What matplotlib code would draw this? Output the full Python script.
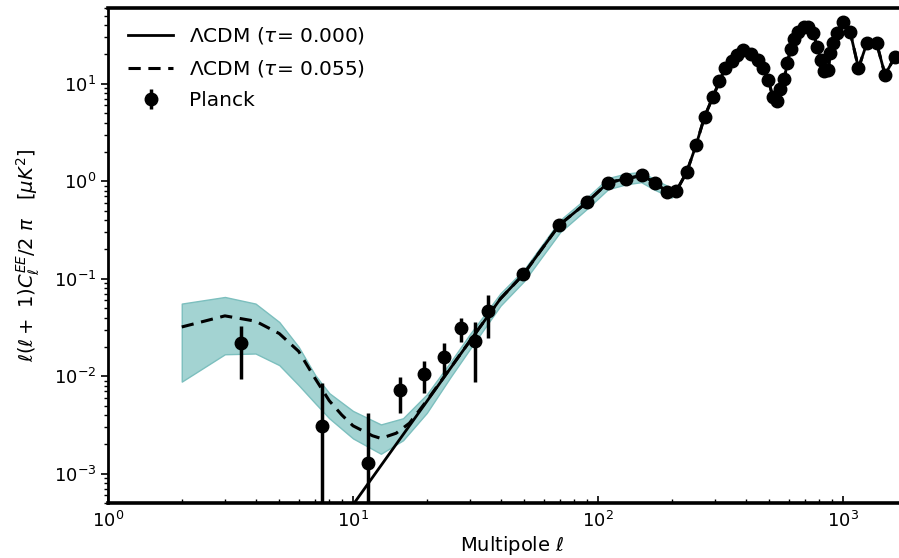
import numpy as np
import matplotlib as mpl
from matplotlib import pyplot as plt

mpl.rcParams.update({'font.family': 'DejaVu Sans'})

# Planck EE band powers
planck_ell = [3.5, 7.5, 11.5, 15.5, 19.5, 23.5, 27.6, 31.5, 35.7,
              49.6, 69.5, 89.9, 110, 130, 151, 171, 190.6, 209,
              230, 251, 272, 294, 313, 330, 351, 368, 392, 423, 451, 473, 496,
              516, 536, 553, 576, 592, 612, 631, 657, 690, 722, 756, 785, 810,
              836, 871, 885, 913, 942, 996, 1069, 1156, 1250, 1372, 1484, 1630]
planck_cl = [0.0217, 0.0031, 0.00129, 0.00714, 0.0105, 0.0159, 0.0314, 0.0229, 0.0464,
             0.111, 0.356, 0.606, 0.97, 1.06, 1.15, 0.97, 0.78, 0.80,
             1.24, 2.33, 4.58, 7.3, 10.6, 14.5, 17.2, 19.8, 22.2, 20.2, 17.6, 14.5, 11.0,
             7.4, 6.6, 8.8, 11.2, 16.5, 22.6, 28.6, 34.2, 38.4, 38.4, 32.9, 24.0, 17.6,
             13.4, 13.9, 20.6, 26.0, 32.9, 43.3, 34.2, 14.5, 26.0, 26.0, 12.4, 19.0]
planck_hi = [0.033, 0.0085, 0.0042, 0.0099, 0.0143, 0.0217, 0.0397, 0.036, 0.0676]
planck_lo = [0.0093, 1e-6, 1e-6, 0.0042, 0.0067, 0.0103, 0.0225, 0.0088, 0.0249]

# LCDM tau = 0.000
lcdm0_ell_low = [10.0, 15.0, 20.0, 30.0, 40.0]
lcdm0_cl_low = [0.00048, 0.0020, 0.0055, 0.023, 0.0625]

# LCDM tau = 0.055
lcdm055_ell_low = [2, 3, 4, 5, 6, 7, 8, 9, 10, 12, 13, 15, 17, 20, 30, 40]
lcdm055_cl_low = [0.032, 0.0416, 0.0367, 0.0274, 0.018, 0.0095, 0.0056, 0.0040, 0.0031,
                  0.00245, 0.0023, 0.0026, 0.0033, 0.0056, 0.023, 0.0625]

# spread of the tau = 0.055 realisations
band_ell = [2, 3, 4, 5, 6, 7, 8, 10, 13, 16, 20, 25, 30, 40, 50, 70, 90, 110, 130, 150, 170, 200]
band_hi = [0.0556, 0.065, 0.0556, 0.036, 0.020, 0.0103, 0.0067, 0.0044, 0.0032, 0.0037, 0.0065,
           0.014, 0.027, 0.071, 0.125, 0.40, 0.68, 1.08, 1.20, 1.25, 1.05, 0.85]
band_lo = [0.0088, 0.0168, 0.0171, 0.013, 0.0081, 0.0053, 0.0037, 0.0023, 0.0016, 0.0022, 0.0042,
           0.0098, 0.019, 0.053, 0.095, 0.30, 0.52, 0.83, 0.93, 0.98, 0.82, 0.68]

if __name__ == "__main__":
    fig = plt.figure(figsize=(8.99, 5.58), dpi=100)
    ax = fig.add_axes([108 / 899, 55 / 558, 808.8 / 899, 495 / 558])

    ax.fill_between(band_ell, band_lo, band_hi, facecolor='#a3d3d2', edgecolor='#7cbfbe',
                    linewidth=1, zorder=1)

    lcdm0_ell = lcdm0_ell_low + planck_ell[9:]
    lcdm0_cl = lcdm0_cl_low + planck_cl[9:]
    lcdm055_ell = lcdm055_ell_low + planck_ell[9:]
    lcdm055_cl = lcdm055_cl_low + planck_cl[9:]

    ax.plot(lcdm0_ell, lcdm0_cl, color='black', linewidth=2, label=r'$\Lambda$CDM ($\tau$= 0.000)', zorder=3)
    ax.plot(lcdm055_ell, lcdm055_cl, color='black', linewidth=2.2, linestyle='--', dashes=(4, 2.5),
            label=r'$\Lambda$CDM ($\tau$= 0.055)', zorder=3)

    n_low = len(planck_hi)
    yerr_lo = [c - l for c, l in zip(planck_cl[:n_low], planck_lo)] + [0] * (len(planck_cl) - n_low)
    yerr_hi = [h - c for c, h in zip(planck_cl[:n_low], planck_hi)] + [0] * (len(planck_cl) - n_low)
    ax.errorbar(planck_ell, planck_cl, yerr=[yerr_lo, yerr_hi], fmt='o', color='black',
                markersize=9, elinewidth=2.5, capsize=0, label='Planck', zorder=4)

    ax.set_xscale('log')
    ax.set_yscale('log')
    ax.set_xlim(1, 2000)
    ax.set_ylim(5e-4, 60)

    for s in ['top', 'bottom']:
        ax.spines[s].set_linewidth(2.6)
    ax.spines['left'].set_linewidth(2.0)
    ax.tick_params(axis='x', which='both', direction='in', labelsize=13, pad=6)
    ax.tick_params(axis='y', which='both', direction='out', labelsize=13)
    ax.tick_params(which='major', length=5, width=1.2)
    ax.tick_params(which='minor', length=3, width=1)

    ax.set_xlabel(r'Multipole $\ell$', fontsize=14, labelpad=2)
    ax.set_ylabel(r'$\ell(\ell+\ 1)C^{EE}_{\ell}/2\ \pi\ \ \ [\mu K^2]$', fontsize=14, labelpad=8)

    ax.legend(loc='upper left', frameon=False, fontsize=14.5, handlelength=2.2,
              bbox_to_anchor=(0.004, 1.0), borderaxespad=0.45, labelspacing=0.6)

    plt.savefig('out.png', dpi=100)
    plt.close()
